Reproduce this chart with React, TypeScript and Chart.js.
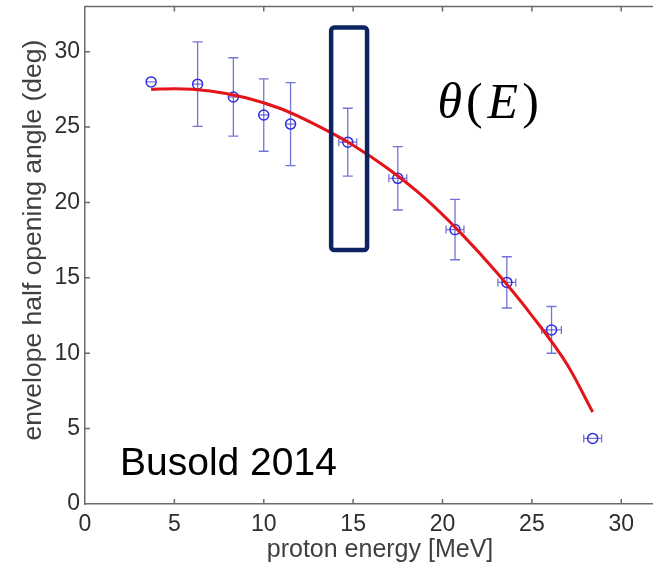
import React, { useEffect, useRef } from "react";
import { Chart, registerables } from "chart.js";

Chart.register(...registerables);

// Measured data points (proton energy in MeV, half opening angle in deg)
const energy = [3.7, 6.3, 8.3, 10.0, 11.5, 14.7, 17.5, 20.7, 23.6, 26.1, 28.4];
const angle = [28.0, 27.85, 27.0, 25.8, 25.2, 24.0, 21.6, 18.2, 14.7, 11.55, 4.35];
const angleErr = [0, 2.8, 2.6, 2.4, 2.75, 2.25, 2.1, 2.0, 1.7, 1.55, 0];
const energyErr = [0.25, 0.25, 0.25, 0.25, 0.25, 0.5, 0.5, 0.5, 0.5, 0.55, 0.5];

// Fit curve
const fitEnergy = [3.7, 5, 7, 9, 11, 13, 15, 17, 19, 21, 23, 25, 27, 28.4];
const fitAngle = [27.5, 27.55, 27.4, 26.95, 26.2, 25.1, 23.8, 22.2, 20.3, 18.0, 15.4, 12.5, 9.2, 6.1];

// Axis ticks
const xTicks = [0, 5, 10, 15, 20, 25, 30];
const yTicks = [0, 5, 10, 15, 20, 25, 30];

// Annotations (data units)
const boxRange = { x0: 13.77, x1: 15.78, y0: 16.85, y1: 31.6 };
const formulaPos = { x: 22.55, y: 25.6 };
const sourcePos = { x: 1.96, y: 1.92 };
const sourceText = "Busold 2014";
const xTitle = "proton energy [MeV]";
const yTitle = "envelope half opening angle (deg)";

const SANS = "'Liberation Sans', Arial, sans-serif";
const SERIF = "'Liberation Serif', 'DejaVu Serif', serif";

const overlay = {
  id: "overlay",
  beforeDatasetsDraw(chart: any) {
    const { ctx, scales } = chart;
    const xs = scales.x;
    const ys = scales.y;
    ctx.save();
    ctx.strokeStyle = "rgba(70,70,200,0.75)";
    ctx.lineWidth = 1.3;
    for (let i = 0; i < energy.length; i++) {
      const px = xs.getPixelForValue(energy[i]);
      const py = ys.getPixelForValue(angle[i]);
      if (angleErr[i] > 0) {
        const t = ys.getPixelForValue(angle[i] + angleErr[i]);
        const b = ys.getPixelForValue(angle[i] - angleErr[i]);
        ctx.beginPath();
        ctx.moveTo(px, t);
        ctx.lineTo(px, b);
        ctx.moveTo(px - 5, t);
        ctx.lineTo(px + 5, t);
        ctx.moveTo(px - 5, b);
        ctx.lineTo(px + 5, b);
        ctx.stroke();
      }
      if (energyErr[i] > 0) {
        const l = xs.getPixelForValue(energy[i] - energyErr[i]);
        const r = xs.getPixelForValue(energy[i] + energyErr[i]);
        ctx.beginPath();
        ctx.moveTo(l, py);
        ctx.lineTo(r, py);
        if (energyErr[i] > 0.3) {
          ctx.moveTo(l, py - 4);
          ctx.lineTo(l, py + 4);
          ctx.moveTo(r, py - 4);
          ctx.lineTo(r, py + 4);
        }
        ctx.stroke();
      }
    }
    ctx.restore();
  },
  afterDatasetsDraw(chart: any) {
    const { ctx, scales } = chart;
    const xs = scales.x;
    const ys = scales.y;
    ctx.save();
    // highlight box
    const bx0 = xs.getPixelForValue(boxRange.x0);
    const bx1 = xs.getPixelForValue(boxRange.x1);
    const by0 = ys.getPixelForValue(boxRange.y1);
    const by1 = ys.getPixelForValue(boxRange.y0);
    ctx.strokeStyle = "#0c2461";
    ctx.lineWidth = 4.5;
    ctx.lineJoin = "round";
    ctx.beginPath();
    (ctx as any).roundRect(bx0, by0, bx1 - bx0, by1 - by0, 3);
    ctx.stroke();

    // θ(E)
    const fx = xs.getPixelForValue(formulaPos.x);
    const fy = ys.getPixelForValue(formulaPos.y);
    ctx.fillStyle = "#000";
    ctx.textBaseline = "alphabetic";
    const parts = [
      { t: "θ", f: `italic 50px ${SERIF}`, gap: 4 },
      { t: "(", f: `50px ${SERIF}`, gap: 5 },
      { t: "E", f: `italic 50px ${SERIF}`, gap: 4 },
      { t: ")", f: `50px ${SERIF}`, gap: 0 },
    ];
    let total = 0;
    for (const p of parts) {
      ctx.font = p.f;
      total += ctx.measureText(p.t).width + p.gap;
    }
    let cx = fx - total / 2;
    for (const p of parts) {
      ctx.font = p.f;
      ctx.textAlign = "left";
      ctx.fillText(p.t, cx, fy);
      cx += ctx.measureText(p.t).width + p.gap;
    }

    // source label
    ctx.font = `39px ${SANS}`;
    ctx.textAlign = "left";
    ctx.fillText(sourceText, xs.getPixelForValue(sourcePos.x), ys.getPixelForValue(sourcePos.y));
    ctx.restore();
  },
  afterDraw(chart: any) {
    const { ctx, scales, chartArea } = chart;
    const xs = scales.x;
    const ys = scales.y;
    ctx.save();
    ctx.strokeStyle = "#6b6b6b";
    ctx.lineWidth = 1.5;
    ctx.beginPath();
    // top border
    ctx.moveTo(chartArea.left, chartArea.top);
    ctx.lineTo(chartArea.right + 10, chartArea.top);
    // inner ticks
    for (const v of xTicks) {
      if (v === 0) continue;
      const px = xs.getPixelForValue(v);
      ctx.moveTo(px, chartArea.bottom);
      ctx.lineTo(px, chartArea.bottom - 5);
      ctx.moveTo(px, chartArea.top);
      ctx.lineTo(px, chartArea.top + 5);
    }
    for (const v of yTicks) {
      if (v === 0) continue;
      const py = ys.getPixelForValue(v);
      ctx.moveTo(chartArea.left, py);
      ctx.lineTo(chartArea.left + 5, py);
    }
    ctx.stroke();

    // axis titles
    ctx.fillStyle = "#404040";
    ctx.font = `25px ${SANS}`;
    ctx.textAlign = "center";
    ctx.textBaseline = "middle";
    ctx.fillText(xTitle, 380, 550);
    ctx.translate(34, 240);
    ctx.rotate(-Math.PI / 2);
    ctx.font = `26.5px ${SANS}`;
    ctx.fillText(yTitle, 0, 0);
    ctx.restore();
  },
};

export default function App() {
  const ref = useRef<HTMLCanvasElement | null>(null);
  useEffect(() => {
    document.body.style.margin = "0";
    const canvas = ref.current;
    if (!canvas) return;
    const chart = new Chart(canvas, {
      type: "scatter",
      data: {
        datasets: [
          {
            type: "line",
            label: "fit",
            data: fitEnergy.map((x, i) => ({ x, y: fitAngle[i] })),
            borderColor: "#e3141a",
            borderWidth: 3,
            pointRadius: 0,
            tension: 0.4,
            cubicInterpolationMode: "monotone",
            fill: false,
            order: 0,
          } as any,
          {
            type: "scatter",
            label: "data",
            data: energy.map((x, i) => ({ x, y: angle[i] })),
            borderColor: "#3030e0",
            backgroundColor: "rgba(0,0,0,0)",
            borderWidth: 1.5,
            pointRadius: 5,
            pointStyle: "circle",
            order: 1,
          },
        ],
      },
      options: {
        responsive: false,
        animation: false,
        events: [],
        layout: { padding: { top: 6, right: 8, left: 0, bottom: 0 } },
        plugins: {
          legend: { display: false },
          tooltip: { enabled: false },
          title: { display: false },
        },
        scales: {
          x: {
            type: "linear",
            min: 0,
            max: 32,
            grid: { display: false, drawTicks: false },
            border: { display: true, color: "#6b6b6b", width: 1.5 },
            ticks: {
              padding: 7,
              autoSkip: false,
              color: "#2e2e2e",
              font: { family: SANS, size: 23 },
              maxRotation: 0,
            },
            afterBuildTicks: (s: any) => {
              s.ticks = xTicks.map((v) => ({ value: v }));
            },
            afterFit: (s: any) => {
              s.height = 60;
              s.paddingLeft = 0;
              s.paddingRight = 0;
            },
          },
          y: {
            type: "linear",
            min: 0,
            max: 33,
            grid: { display: false, drawTicks: false },
            border: { display: true, color: "#6b6b6b", width: 1.5 },
            ticks: {
              padding: 5,
              autoSkip: false,
              color: "#2e2e2e",
              font: { family: SANS, size: 23 },
            },
            afterBuildTicks: (s: any) => {
              s.ticks = yTicks.map((v) => ({ value: v }));
            },
            afterFit: (s: any) => {
              s.width = 85;
              s.paddingTop = 0;
              s.paddingBottom = 0;
            },
          },
        },
      },
      plugins: [overlay],
    });
    return () => chart.destroy();
  }, []);
  return (
    <div style={{ width: 653, height: 564, overflow: "hidden", background: "#fff" }}>
      <canvas ref={ref} width={665} height={564} style={{ display: "block" }} />
    </div>
  );
}
